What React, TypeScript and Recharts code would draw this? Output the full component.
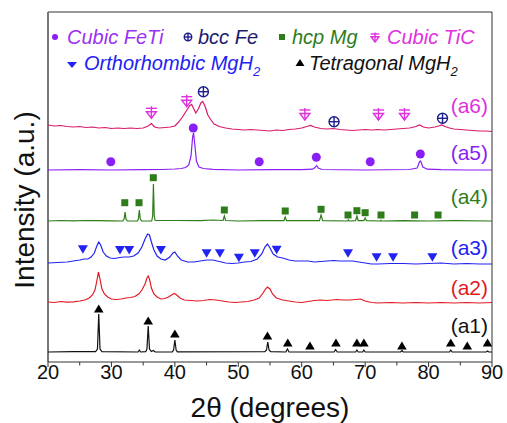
import { ComposedChart, Line, Scatter, XAxis, YAxis, ReferenceLine } from "recharts";

// XRD patterns, stacked. Each trace: [2theta, intensity above its own baseline]
const a1: [number, number][] = [
  [20, 0], [24, 0.3], [27.5, 0.3], [27.8, 3], [28.0, 38], [28.2, 3], [28.5, 0.3], [34.2, 0], [34.4, 2], [34.6, 0],
  [35.4, 0.3], [35.6, 3], [35.8, 26], [36.0, 3], [36.3, 0.5], [36.6, 1.5], [36.9, 0], [39.6, 0.2], [39.8, 2],
  [40.0, 12], [40.2, 2], [40.4, 0.2], [54.2, 0.3], [54.45, 2], [54.65, 10], [54.85, 2], [55.1, 0.3], [57.5, 0],
  [57.75, 3], [58.0, 0], [65.1, 0], [65.35, 2.5], [65.6, 0], [68.5, 0], [68.7, 2], [68.9, 0], [69.6, 0], [69.8, 2],
  [70.0, 0], [75.6, 0], [75.8, 1.5], [76.0, 0], [83.3, 0], [83.5, 2], [83.7, 0], [89.1, 0], [89.3, 1], [89.5, 0], [90, 0],
];
const a2: [number, number][] = [
  [20, 1], [21, 0.5], [22, 1.5], [23, 0.8], [24, 1.2], [25, 2], [25.8, 3], [26.5, 5], [27.0, 8], [27.4, 13],
  [27.7, 22], [27.95, 31], [28.2, 24], [28.5, 14], [28.9, 9], [29.4, 6], [30, 4], [30.8, 3.5], [31.5, 4], [32.3, 5],
  [33, 5.5], [33.7, 6.5], [34.3, 9], [34.8, 13], [35.3, 19], [35.6, 25], [35.8, 27], [36.0, 24], [36.3, 15],
  [36.7, 9], [37.2, 6], [37.8, 4], [38.4, 4.5], [39.0, 6], [39.6, 8.5], [39.9, 9.5], [40.3, 8], [40.8, 5],
  [41.5, 3], [42.5, 2.5], [43.5, 2], [44.5, 2.5], [45.5, 3.5], [46.5, 3], [47.5, 2], [48.5, 1], [49.5, 0.5],
  [50.5, 1], [51.5, 1.5], [52.5, 3], [53.3, 5], [53.9, 10], [54.3, 14], [54.6, 16], [55.0, 14], [55.4, 9],
  [56, 5], [57, 3], [58, 2], [59, 1], [60, 0.5], [61, 1.5], [62, 2.5], [63, 3], [64, 2.5], [65.5, 3.5],
  [66.5, 3], [67.5, 3], [68.5, 3.5], [69.3, 4], [70, 2], [71, 0.5], [72, 0], [74, 0.5], [76, 0], [78, 0.5],
  [80, 0], [82, 0.5], [84, 0], [86, 0.5], [88, 0], [90, 0.5],
];
const a3: [number, number][] = [
  [20, 1], [21.5, 1.5], [23, 2], [24, 3], [25, 4], [25.7, 5], [26.3, 5], [26.8, 7], [27.3, 11], [27.7, 18],
  [28.0, 22], [28.3, 19], [28.7, 12], [29.2, 8], [29.8, 6], [30.5, 5.5], [31.3, 6.5], [32, 7], [32.8, 7],
  [33.5, 8], [34.2, 11], [34.8, 17], [35.3, 25], [35.7, 30], [36.0, 29], [36.3, 22], [36.7, 14], [37.2, 8],
  [37.8, 5], [38.5, 4], [39.2, 7], [39.7, 11], [40.0, 12], [40.4, 8], [41, 4], [42, 2], [43, 2], [44, 3],
  [45, 4], [46, 4], [47, 2.5], [48, 1], [49, 0.5], [50, 1], [51, 2], [52, 2.5], [53, 5], [53.7, 10], [54.2, 17],
  [54.6, 20], [55.0, 16], [55.5, 10], [56.2, 7], [57, 6], [58, 4], [59, 3], [60, 3], [61, 3], [62, 2], [63, 2.5],
  [64, 3], [65, 3.5], [66, 3], [67, 3], [68, 3], [69, 2], [70, 1], [71, 0], [72, 0], [74, 0.5], [76, 0.5],
  [78, 0], [80, 0.5], [82, 1], [84, 0], [86, 0.5], [88, 0], [90, 0],
];
const a4: [number, number][] = [
  [20, 0], [22, 0.5], [24, 0.2], [26, 0.5], [28, 0.3], [30, 0.2], [31.8, 0], [32.0, 2], [32.15, 9], [32.3, 2],
  [32.5, 0], [34.1, 0], [34.25, 2], [34.4, 11], [34.55, 2], [34.75, 0], [36.35, 0], [36.5, 5], [36.62, 37],
  [36.75, 5], [36.9, 0.5], [40, 0.5], [44, 0.3], [46, 1], [47.6, 0.5], [47.8, 5], [48.0, 0.5], [50, 0],
  [54, 0.3], [57.2, 0.3], [57.4, 4], [57.6, 0.3], [62.8, 0.3], [63.05, 6], [63.3, 0.3], [67.2, 0], [67.35, 1.2],
  [67.5, 0], [68.5, 0.3], [68.7, 5], [68.9, 0.3], [69.8, 0.3], [70.0, 3], [70.2, 0.3], [72.4, 0], [72.5, 0.8],
  [72.6, 0], [76, 0.3], [80, 0], [84, 0.3], [90, 0],
];
const a5: [number, number][] = [
  [20, 0], [25, 0.3], [30, 0], [35, 0.3], [38, 0.5], [40, 1], [41, 1.5], [41.7, 2.5], [42.2, 5], [42.55, 14],
  [42.8, 33], [42.95, 37], [43.15, 25], [43.4, 9], [43.8, 3], [44.5, 1.5], [46, 0.7], [50, 0], [55, 0.3],
  [60, 0.3], [61.7, 0.8], [62.1, 2.5], [62.35, 4.5], [62.6, 2], [63.2, 0.5], [70, 0], [77, 0.5], [78.2, 2],
  [78.6, 8.5], [78.75, 9], [79.1, 3], [79.8, 0.8], [82, 0.3], [86, 0], [90, 0],
];
const a6: [number, number][] = [
  [20, 5], [21, 4], [22, 4.5], [23, 3.5], [24, 3], [25, 3.5], [26, 2.5], [27, 3], [28, 2], [29, 2.5], [30, 1.5],
  [31, 2], [32, 1.5], [33, 2], [34, 1.5], [35, 2], [35.8, 4], [36.3, 6.5], [36.8, 3], [37.5, 2], [38.5, 2.5],
  [39.3, 3], [40, 4], [40.6, 8], [41.2, 13], [41.8, 19], [42.3, 24], [42.65, 25.5], [43.0, 21], [43.3, 17],
  [43.7, 21], [44.1, 27], [44.4, 28.5], [44.8, 23], [45.2, 15], [45.7, 10], [46.2, 6], [47, 3.5], [48, 2],
  [49, 1], [50, 0.5], [51, 0], [52, 0.5], [53, 0], [54, -0.5], [55, -1], [56, 0], [57, -0.5], [58, 0.5], [59, 1],
  [60, 2], [60.8, 3.5], [61.4, 4.5], [62, 3], [63, 1.5], [64, 1], [65, 1.5], [66, 0.5], [67, 0], [68, -0.5],
  [69, 0], [70, 0.5], [71, 0], [72, 0.5], [73, 0], [74, 0.5], [75, 1], [76, 1.5], [77, 2], [78, 3.5], [78.6, 5],
  [79.2, 3], [80, 2], [81, 3], [81.6, 4], [82.1, 5], [82.6, 3.5], [83.3, 2], [84, 1], [85, 0.5], [86, 0],
  [87, -0.5], [88, -1], [89, -1], [90, -1.5],
];

// phase markers: [2theta, height above the trace baseline]
const tetragonalMgH2: [number, number][] = [
  [28.0, 43], [35.8, 31], [40.0, 18], [54.6, 16], [57.8, 9], [61.3, 6], [65.4, 9], [68.7, 9], [69.8, 9],
  [75.8, 6], [83.5, 9], [86.1, 6], [89.3, 9],
];
const orthoMgH2: [number, number][] = [
  [25.5, 14.7], [31.35, 14], [32.8, 14], [37.8, 14], [45, 10.7], [47.1, 10.7], [50.1, 6.3], [52.6, 10.7],
  [56.05, 14.3], [67.3, 10.7], [71.8, 6.7], [74.4, 6.7], [80.6, 6.7],
];
const hcpMg: [number, number][] = [
  [32.1, 18.3], [34.35, 18.3], [36.6, 43.3], [47.8, 11], [57.4, 10], [63.05, 11.7], [67.3, 6], [68.7, 10.3],
  [70.0, 8.3], [72.5, 6], [77.8, 6], [81.5, 6],
];
const cubicFeTi: [number, number][] = [
  [29.9, 8.3], [42.9, 42], [53.3, 8.3], [62.3, 12.7], [70.8, 8.3], [78.7, 16],
];
const cubicTiC: [number, number][] = [[36.3, 16.7], [41.87, 28.3], [60.5, 15], [72.1, 15], [76.2, 15]];
const bccFe: [number, number][] = [[44.5, 38.3], [65.1, 8.3], [82.2, 11.7]];

const sampleNames = ["(a1)", "(a2)", "(a3)", "(a4)", "(a5)", "(a6)"];
const xTicks = [20, 25, 30, 35, 40, 45, 50, 55, 60, 65, 70, 75, 80, 85, 90];

const FONT = "'Liberation Sans', Arial, sans-serif";
const traces = [a1, a2, a3, a4, a5, a6];
const offsets = [10, 59, 98, 141, 192, 232];
const traceColors = ["#111111", "#E21B23", "#2222F2", "#2E7D1A", "#8A1FF5", "#D81B6A"];
const labelColors = ["#111111", "#E21B23", "#2222F2", "#2E7D1A", "#8A1FF5", "#E030E0"];
const labelY = [326, 288, 248, 197, 153, 106];

const toPts = (arr: [number, number][], off: number) => arr.map(([x, y]) => ({ x, y: y + off }));

type Kind = "triUp" | "triDown" | "square" | "circle" | "fe" | "tic";

function Sym({ kind, cx, cy, s = 1 }: { kind: Kind; cx: number; cy: number; s?: number }) {
  switch (kind) {
    case "triUp":
      return <polygon points={`${cx},${cy - 4.5 * s} ${cx + 4.8 * s},${cy + 3.5 * s} ${cx - 4.8 * s},${cy + 3.5 * s}`} fill="#000" />;
    case "triDown":
      return <polygon points={`${cx - 5 * s},${cy - 4 * s} ${cx + 5 * s},${cy - 4 * s} ${cx},${cy + 4.5 * s}`} fill="#2222F2" />;
    case "square":
      return <rect x={cx - 3.5 * s} y={cy - 3.5 * s} width={7 * s} height={7 * s} fill="#2E7D1A" />;
    case "circle":
      return <circle cx={cx} cy={cy} r={4.5 * s} fill="#8A1FF5" />;
    case "fe":
      return (
        <g stroke="#1E1E8C" strokeWidth={1.4} fill="none">
          <circle cx={cx} cy={cy} r={5 * s} />
          <line x1={cx - 5 * s} x2={cx + 5 * s} y1={cy} y2={cy} />
          <line x1={cx} x2={cx} y1={cy - 5 * s} y2={cy + 5 * s} />
        </g>
      );
    case "tic":
      return (
        <g stroke="#E030E0" strokeWidth={1.4} fill="none">
          <line x1={cx - 5.5 * s} x2={cx + 5.5 * s} y1={cy - 5 * s} y2={cy - 5 * s} />
          <polygon points={`${cx - 5 * s},${cy - 1.5 * s} ${cx + 5 * s},${cy - 1.5 * s} ${cx},${cy + 5 * s}`} />
          <line x1={cx} x2={cx} y1={cy - 7 * s} y2={cy + 5 * s} />
        </g>
      );
  }
}

function AxisTick(props: any) {
  const { x, y, payload } = props;
  const major = payload.value % 10 === 0;
  return (
    <g>
      <line x1={x} x2={x} y1={y} y2={y + (major ? 5 : 3.5)} stroke="#333" strokeWidth={1} />
      {major && (
        <text x={x} y={y + 17} textAnchor="middle" fontSize={20} fill="#111" fontFamily={FONT}>
          {payload.value}
        </text>
      )}
    </g>
  );
}

const markerSets: { data: [number, number][]; off: number; kind: Kind }[] = [
  { data: tetragonalMgH2, off: offsets[0], kind: "triUp" },
  { data: orthoMgH2, off: offsets[2], kind: "triDown" },
  { data: hcpMg, off: offsets[3], kind: "square" },
  { data: cubicFeTi, off: offsets[4], kind: "circle" },
  { data: cubicTiC, off: offsets[5], kind: "tic" },
  { data: bccFe, off: offsets[5], kind: "fe" },
];

const legendText = { position: "absolute" as const, fontFamily: FONT, fontStyle: "italic", fontSize: 20, lineHeight: "20px", whiteSpace: "nowrap" as const };

export default function App() {
  return (
    <div style={{ position: "absolute", left: 0, top: 0, width: 507, height: 423, background: "#fff" }}>
      <ComposedChart width={507} height={423} margin={{ top: 12, right: 15, left: 48, bottom: 31 }}>
        <XAxis
          type="number"
          dataKey="x"
          domain={[20, 90]}
          ticks={xTicks}
          interval={0}
          height={30}
          tickLine={false}
          tickSize={0}
          tickMargin={0}
          tick={<AxisTick />}
          axisLine={{ stroke: "#333", strokeWidth: 1 }}
          allowDataOverflow
        />
        <YAxis type="number" dataKey="y" domain={[0, 350]} hide allowDataOverflow />
        <ReferenceLine y={350} stroke="#333" strokeWidth={1} />
        <ReferenceLine x={90} stroke="#333" strokeWidth={1} />
        <ReferenceLine x={20} stroke="#777" strokeWidth={2} />
        {traces.map((t, i) => (
          <Line
            key={i}
            data={toPts(t, offsets[i])}
            dataKey="y"
            type="linear"
            stroke={traceColors[i]}
            strokeWidth={1.2}
            dot={false}
            isAnimationActive={false}
          />
        ))}
        {markerSets.map((m, i) => (
          <Scatter
            key={"m" + i}
            data={toPts(m.data, m.off)}
            dataKey="y"
            isAnimationActive={false}
            shape={(p: any) => <Sym kind={m.kind} cx={p.cx} cy={p.cy} />}
          />
        ))}
      </ComposedChart>

      {/* legend */}
      <svg width={507} height={80} style={{ position: "absolute", left: 0, top: 0 }}>
        <circle cx={55} cy={37} r={3} fill="#8A1FF5" />
        <Sym kind="fe" cx={188} cy={37} s={0.75} />
        <rect x={279} y={34} width={6} height={6} fill="#2E7D1A" />
        <Sym kind="tic" cx={375} cy={38} s={0.8} />
        <polygon points="67,62 77,62 72,68" fill="#2222F2" />
        <polygon points="300,59 304.5,66 295.5,66" fill="#000" />
      </svg>
      <div style={{ ...legendText, left: 67, top: 27, color: "#9B30F0" }}>Cubic FeTi</div>
      <div style={{ ...legendText, left: 198, top: 27, color: "#1A1A70" }}>bcc Fe</div>
      <div style={{ ...legendText, left: 292, top: 27, color: "#2E7D1A" }}>hcp Mg</div>
      <div style={{ ...legendText, left: 387, top: 27, color: "#E030E0" }}>Cubic TiC</div>
      <div style={{ ...legendText, left: 84, top: 53, color: "#2222F2" }}>
        Orthorhombic MgH<sub style={{ fontSize: 13, verticalAlign: "-6px" }}>2</sub>
      </div>
      <div style={{ ...legendText, left: 309, top: 53, color: "#111" }}>
        Tetragonal MgH<sub style={{ fontSize: 13, verticalAlign: "-6px" }}>2</sub>
      </div>

      {/* sample labels */}
      {sampleNames.map((n, i) => (
        <div
          key={n}
          style={{
            position: "absolute",
            right: 507 - 488,
            top: labelY[i] - 11,
            fontFamily: FONT,
            fontSize: 21,
            lineHeight: "21px",
            color: labelColors[i],
          }}
        >
          {n}
        </div>
      ))}

      {/* axis titles */}
      <div
        style={{
          position: "absolute",
          left: 270 - 150,
          width: 300,
          top: 394,
          textAlign: "center",
          fontFamily: FONT,
          fontSize: 28,
          lineHeight: "28px",
          color: "#111",
        }}
      >
        2θ (degrees)
      </div>
      <div
        style={{
          position: "absolute",
          left: 25 - 150,
          width: 300,
          top: 200 - 14,
          textAlign: "center",
          fontFamily: FONT,
          fontSize: 28,
          lineHeight: "28px",
          color: "#111",
          transform: "rotate(-90deg)",
        }}
      >
        Intensity (a.u.)
      </div>
    </div>
  );
}
